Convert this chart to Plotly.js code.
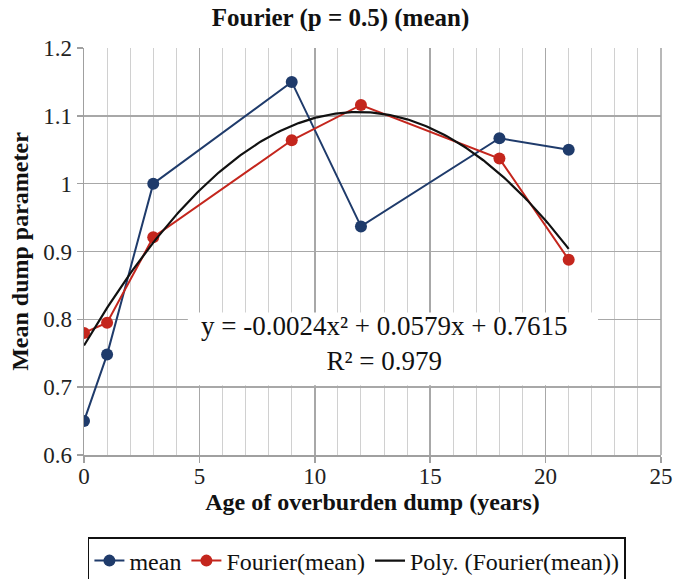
<!DOCTYPE html>
<html>
<head>
<meta charset="utf-8">
<script src="https://cdn.plot.ly/plotly-3.0.1.min.js"></script>
<style>html,body{margin:0;padding:0;background:#fff;}#chart{width:681px;height:579px;}</style>
</head>
<body>
<div id="chart"></div>
<script>
const ages = [0, 1, 3, 9, 12, 18, 21];
const meanValues = [0.650, 0.748, 1.000, 1.150, 0.937, 1.067, 1.050];
const fourierValues = [0.780, 0.795, 0.921, 1.064, 1.116, 1.037, 0.888];
const seriesNames = ['mean', 'Fourier(mean)', 'Poly. (Fourier(mean))'];
const titleText = 'Fourier (p = 0.5) (mean)';
const xTitle = 'Age of overburden dump (years)';
const yTitle = 'Mean dump parameter';
const eqText = 'y = -0.0024x² + 0.0579x + 0.7615<br>R² = 0.979';

// quadratic least-squares trendline fitted to the Fourier series (as the spreadsheet does)
function polyFit2(xs, ys) {
  let S = [0,0,0,0,0], T = [0,0,0];
  for (let i = 0; i < xs.length; i++) {
    let p = 1;
    for (let k = 0; k < 5; k++) { S[k] += p; if (k < 3) T[k] += p * ys[i]; p *= xs[i]; }
  }
  const A = [[S[0],S[1],S[2],T[0]],[S[1],S[2],S[3],T[1]],[S[2],S[3],S[4],T[2]]];
  for (let i = 0; i < 3; i++) {
    for (let j = i + 1; j < 3; j++) {
      const f = A[j][i] / A[i][i];
      for (let k = i; k < 4; k++) A[j][k] -= f * A[i][k];
    }
  }
  const c = [0,0,0];
  for (let i = 2; i >= 0; i--) {
    let s = A[i][3];
    for (let k = i + 1; k < 3; k++) s -= A[i][k] * c[k];
    c[i] = s / A[i][i];
  }
  return c;
}
const coef = polyFit2(ages, fourierValues);
const trendX = [], trendY = [];
for (let i = 0; i <= 210; i++) {
  const x = ages[0] + (ages[ages.length-1] - ages[0]) * i / 210;
  trendX.push(x); trendY.push(coef[0] + coef[1]*x + coef[2]*x*x);
}

const serif = 'Liberation Serif, Times New Roman, serif';
const traces = [
  {x: ages, y: meanValues, name: seriesNames[0], type: 'scatter', mode: 'lines+markers',
   line: {color: '#1f3b6b', width: 2}, marker: {color: '#1f3b6b', size: 12}},
  {x: ages, y: fourierValues, name: seriesNames[1], type: 'scatter', mode: 'lines+markers',
   line: {color: '#c4261d', width: 2}, marker: {color: '#c4261d', size: 12}},
  {x: trendX, y: trendY, name: seriesNames[2], type: 'scatter', mode: 'lines',
   line: {color: '#111111', width: 2.2}}
];

const layout = {
  width: 681, height: 579,
  margin: {l: 84, r: 20, t: 48, b: 124, autoexpand: false},
  paper_bgcolor: '#fff', plot_bgcolor: '#fff',
  font: {family: serif, color: '#222', size: 22},
  title: {text: '<b>' + titleText + '</b>', font: {family: serif, size: 25, color: '#111'},
          x: 0.5, xanchor: 'center', xref: 'container', yref: 'container', y: 0.971, yanchor: 'middle'},
  xaxis: {
    range: [0, 25], dtick: 5, tick0: 0, showgrid: true, gridcolor: '#a8a8a8', gridwidth: 1.5,
    minor: {dtick: 1, showgrid: true, gridcolor: '#d0d0d0', gridwidth: 1, ticks: ''},
    zeroline: false, showline: true, linecolor: '#a0a0a0', linewidth: 1.5,
    ticks: 'outside', ticklen: 6, tickcolor: '#a0a0a0', tickwidth: 1.5, ticklabelstandoff: -6,
    tickfont: {family: serif, size: 23, color: '#222'},
    title: {text: '<b>' + xTitle + '</b>', font: {family: serif, size: 24, color: '#111'}, standoff: 2}
  },
  yaxis: {
    range: [0.6, 1.2], dtick: 0.1, tick0: 0.6, showgrid: true, gridcolor: '#a8a8a8', gridwidth: 1.5,
    zeroline: false, showline: true, linecolor: '#a0a0a0', linewidth: 1.5,
    ticks: 'outside', ticklen: 6, tickcolor: '#a0a0a0', tickwidth: 1.5,
    tickfont: {family: serif, size: 23, color: '#222'}, tickformat: '~g',
    title: {text: '<b>' + yTitle + '</b>', font: {family: serif, size: 24, color: '#111'}, standoff: 8}
  },
  shapes: [
    {type: 'line', xref: 'paper', yref: 'paper', x0: 1, x1: 1, y0: 0, y1: 1, line: {color: '#a0a0a0', width: 1.5}},
    {type: 'rect', xref: 'x', yref: 'y', x0: 4.5, x1: 22.27, y0: 0.703, y1: 0.81, layer: 'between',
     fillcolor: '#ffffff', line: {width: 0}}
  ],
  annotations: [
    {text: eqText, xref: 'x', yref: 'y', x: 13.0, y: 0.765, showarrow: false,
     font: {family: serif, size: 27, color: '#111'}, align: 'center'}
  ],
  showlegend: true,
  legend: {
    orientation: 'h', xref: 'paper', yref: 'container', x: 0.473, xanchor: 'center', y: 0.0725, yanchor: 'top',
    bordercolor: '#111', borderwidth: 1.5, bgcolor: '#fff',
    font: {family: serif, size: 24, color: '#111'}, traceorder: 'normal'
  }
};
Plotly.newPlot('chart', traces, layout, {displayModeBar: false, staticPlot: true});
</script>
</body>
</html>
